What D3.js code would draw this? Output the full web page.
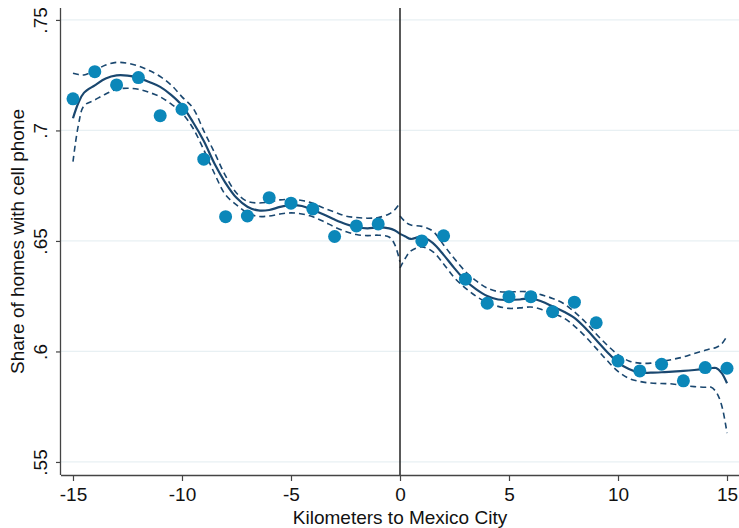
<!DOCTYPE html>
<html>
<head>
<meta charset="utf-8">
<script src="https://cdn.jsdelivr.net/npm/d3@7"></script>
<style>
  html, body { margin: 0; padding: 0; background: #fff; }
  svg { display: block; }
  text { font-family: "Liberation Sans", Arial, Helvetica, sans-serif; fill: #111; }
</style>
</head>
<body>
<svg id="chart" width="739" height="528"></svg>
<script>
// Binned means: distance to Mexico City (km) and share of homes with a cell phone
const binKm = [-15,-14,-13,-12,-11,-10,-9,-8,-7,-6,-5,-4,-3,-2,-1,
               1,2,3,4,5,6,7,8,9,10,11,12,13,14,15];
const binShare = [0.7143,0.7266,0.7206,0.7239,0.7067,0.7096,0.6870,0.6610,0.6613,0.6696,0.6671,0.6645,0.6520,0.6568,0.6577,
                  0.6500,0.6523,0.6327,0.6218,0.6248,0.6248,0.6180,0.6223,0.6130,0.5957,0.5912,0.5942,0.5867,0.5927,0.5924];

// Local fit west of the boundary (estimate, upper and lower bounds)
const leftKm = [-15,-14.75,-14.5,-14,-13.5,-13,-12.5,-12,-11.5,-11,-10.5,-10,-9.5,-9,-8.5,-8,-7.5,-7,-6.5,-6,-5.5,-5,-4.5,-4,-3.5,-3,-2.5,-2,-1.5,-1,-0.5,-0.25,0];
const leftFit = [0.7055,0.7125,0.7170,0.7204,0.7235,0.7249,0.7248,0.7238,0.7219,0.7197,0.7161,0.7113,0.7038,0.6952,0.6848,0.6762,0.6695,0.6655,0.6638,0.6640,0.6654,0.6662,0.6658,0.6640,0.6620,0.6597,0.6577,0.6563,0.6557,0.6561,0.6557,0.6548,0.6532];
const leftHi = [0.7259,0.7253,0.7251,0.7271,0.7296,0.7308,0.7304,0.7292,0.7271,0.7244,0.7206,0.7152,0.7102,0.6998,0.6898,0.6794,0.6717,0.6679,0.6672,0.6676,0.6686,0.6688,0.6683,0.6670,0.6649,0.6631,0.6613,0.6606,0.6603,0.6606,0.6622,0.6640,0.6672];
const leftLo = [0.6859,0.7025,0.7111,0.7138,0.7165,0.7186,0.7191,0.7186,0.7172,0.7152,0.7120,0.7079,0.7011,0.6912,0.6803,0.6708,0.6663,0.6627,0.6611,0.6613,0.6622,0.6627,0.6622,0.6609,0.6588,0.6563,0.6543,0.6529,0.6524,0.6526,0.6518,0.6486,0.6405];

// Local fit east of the boundary
const rightKm = [0,0.25,0.5,1,1.5,2,2.5,3,3.5,4,4.5,5,5.5,6,6.5,7,7.5,8,8.5,9,9.5,10,10.5,11,11.5,12,12.5,13,13.5,14,14.25,14.5,14.75,15];
const rightFit = [0.6532,0.6520,0.6509,0.6519,0.6491,0.6437,0.6376,0.6321,0.6281,0.6251,0.6235,0.6233,0.6235,0.6240,0.6226,0.6204,0.6181,0.6152,0.6106,0.6052,0.5998,0.5950,0.5921,0.5904,0.5904,0.5906,0.5909,0.5912,0.5916,0.5921,0.5924,0.5925,0.5903,0.5856];
const rightHi = [0.6613,0.6586,0.6572,0.6566,0.6545,0.6482,0.6419,0.6362,0.6319,0.6287,0.6271,0.6269,0.6271,0.6269,0.6256,0.6240,0.6217,0.6179,0.6133,0.6079,0.6029,0.5986,0.5957,0.5947,0.5947,0.5955,0.5964,0.5975,0.5991,0.6005,0.6012,0.6018,0.6034,0.6070];
const rightLo = [0.6378,0.6423,0.6455,0.6473,0.6452,0.6396,0.6333,0.6287,0.6249,0.6222,0.6204,0.6195,0.6197,0.6201,0.6190,0.6172,0.6152,0.6115,0.6068,0.6014,0.5959,0.5910,0.5878,0.5864,0.5857,0.5855,0.5853,0.5846,0.5841,0.5838,0.5839,0.5817,0.5758,0.5631];

// Axis ticks and labels
const xTicks = [-15,-10,-5,0,5,10,15];
const yTicks = [0.55,0.6,0.65,0.7,0.75];
const yTickLabels = [".55",".6",".65",".7",".75"];
const xTitle = "Kilometers to Mexico City";
const yTitle = "Share of homes with cell phone";

const svg = d3.select("#chart");
const plotL = 61, plotR = 739, plotT = 8, plotB = 475;
const fontPx = 19;

const x = d3.scaleLinear().domain([-15.55, 15.55]).range([plotL, plotR]);
const y = d3.scaleLinear().domain([0.5441, 0.7554]).range([plotB, plotT]);

const navy = "#1a476f";
const dot = "#0b87b9";

// Horizontal gridlines
svg.append("g").selectAll("line").data(yTicks).join("line")
  .attr("x1", plotL).attr("x2", plotR)
  .attr("y1", d => y(d)).attr("y2", d => y(d))
  .attr("stroke", "#e8f0f3").attr("stroke-width", 1.2);

// Fitted curves
const line = d3.line().x(d => x(d[0])).y(d => y(d[1])).curve(d3.curveCatmullRom.alpha(0.5));
const zip = (a, b) => a.map((v, i) => [v, b[i]]);

const ciSeries = [zip(leftKm, leftHi), zip(leftKm, leftLo), zip(rightKm, rightHi), zip(rightKm, rightLo)];
svg.append("g").selectAll("path").data(ciSeries).join("path")
  .attr("d", line)
  .attr("fill", "none").attr("stroke", navy).attr("stroke-width", 1.6)
  .attr("stroke-dasharray", "6,4");

const fitSeries = [zip(leftKm, leftFit), zip(rightKm, rightFit)];
svg.append("g").selectAll("path").data(fitSeries).join("path")
  .attr("d", line)
  .attr("fill", "none").attr("stroke", navy).attr("stroke-width", 2.2);

// Bin means
svg.append("g").selectAll("circle").data(zip(binKm, binShare)).join("circle")
  .attr("cx", d => x(d[0])).attr("cy", d => y(d[1])).attr("r", 6.5)
  .attr("fill", dot);

// Boundary line
svg.append("line")
  .attr("x1", x(0)).attr("x2", x(0)).attr("y1", plotT).attr("y2", plotB)
  .attr("stroke", "#222").attr("stroke-width", 1.5);

// Axes
const xAxis = d3.axisBottom(x).tickValues(xTicks).tickSize(6).tickPadding(7).tickFormat(d3.format("d"));
const gx = svg.append("g").attr("transform", `translate(0,${plotB})`).call(xAxis);
gx.select(".domain").attr("d", `M${plotL},0.5H${plotR}`).attr("stroke", "#444").attr("stroke-width", 1.3);
gx.selectAll(".tick line").attr("stroke", "#444").attr("stroke-width", 1.2);
gx.selectAll(".tick text").attr("font-size", fontPx).style("font-family", "'Liberation Sans', Arial, sans-serif").attr("fill", "#111")
  .text(d => d < 0 ? "-" + Math.abs(d) : d);

const yAxis = d3.axisLeft(y).tickValues(yTicks).tickSize(5).tickFormat((d, i) => yTickLabels[i]);
const gy = svg.append("g").attr("transform", `translate(${plotL},0)`).call(yAxis);
gy.select(".domain").attr("d", `M-0.5,${plotT}V${plotB}`).attr("stroke", "#444").attr("stroke-width", 1.3);
gy.selectAll(".tick line").attr("stroke", "#444").attr("stroke-width", 1.2);
gy.selectAll(".tick text")
  .attr("font-size", fontPx).style("font-family", "'Liberation Sans', Arial, sans-serif").attr("fill", "#111")
  .attr("x", null).attr("dy", null)
  .attr("transform", "translate(-21,0) rotate(-90)")
  .attr("text-anchor", "middle").attr("dominant-baseline", "central");

// Axis titles
svg.append("text")
  .attr("x", x(0)).attr("y", 523.5)
  .attr("text-anchor", "middle").attr("font-size", fontPx)
  .text(xTitle);

svg.append("text")
  .attr("transform", `translate(17,${(plotT + plotB) / 2}) rotate(-90)`)
  .attr("text-anchor", "middle").attr("dominant-baseline", "central").attr("font-size", fontPx)
  .text(yTitle);
</script>
</body>
</html>
